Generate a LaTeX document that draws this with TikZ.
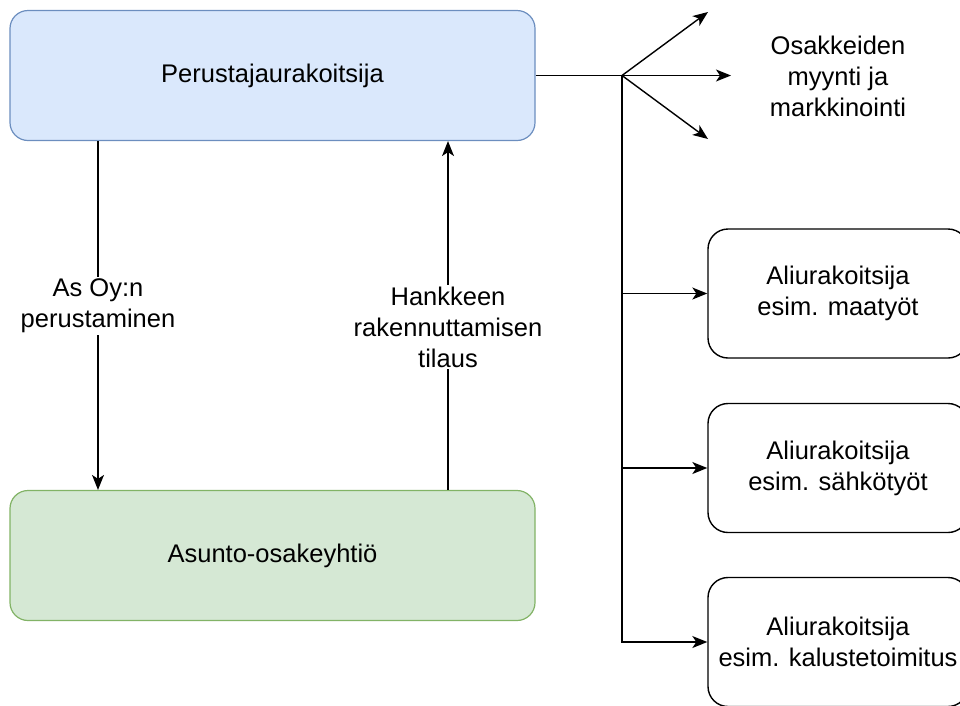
\documentclass[tikz,border=0pt]{standalone}
\usepackage{fontspec}
\setmainfont{Liberation Sans}
\usetikzlibrary{arrows.meta}
\definecolor{blueFill}{HTML}{DAE8FC}
\definecolor{blueLine}{HTML}{6C8EBF}
\definecolor{greenFill}{HTML}{D5E8D4}
\definecolor{greenLine}{HTML}{82B366}
\begin{document}
\begin{tikzpicture}[x=1pt,y=-1pt,
  txt/.style={font=\fontsize{25.5}{31}\selectfont, align=center, text=black},
  bigbox/.style={txt, draw, rounded corners=18pt, line width=1.2pt,
    minimum width=525pt, minimum height=130pt, inner sep=0pt},
  subbox/.style={txt, draw=black, fill=white, rounded corners=20pt, line width=1.4pt,
    minimum width=260pt, minimum height=129pt, inner sep=0pt},
  conn/.style={draw=black, line width=1.4pt},
  arr/.style={conn, -{Stealth[length=15pt, width=12pt, inset=4pt]}},
  lbl/.style={txt, fill=white, inner sep=2pt}]
\useasboundingbox (0,0) rectangle (960,705);

% main boxes
\node[bigbox, fill=blueFill, draw=blueLine] (top) at (272.5,75.5) {Perustajaurakoitsija};
\node[bigbox, fill=greenFill, draw=greenLine] (bot) at (272.5,555.5) {Asunto-osakeyhtiö};

% subcontractor boxes
\node[subbox] (s1) at (838,293.5) {Aliurakoitsija\\esim. maatyöt};
\node[subbox] (s2) at (838,468) {Aliurakoitsija\\esim. sähkötyöt};
\node[subbox] (s3) at (838,642) {Aliurakoitsija\\esim. kalustetoimitus};

% sales text
\node[txt] (sales) at (838,76) {Osakkeiden\\myynti ja\\markkinointi};

% helper coordinates
\coordinate (xl) at (98,0);
\coordinate (xr) at (448,0);
\coordinate (j) at (622,75.5);
\coordinate (t1) at (708,12);
\coordinate (t2) at (731,75.5);
\coordinate (t3) at (708,139);

% vertical links between the main boxes
\draw[arr] (top.south -| xl) -- node[lbl, pos=0.473] (l1) {As Oy:n\\perustaminen} (bot.north -| xl);
\draw[arr] (bot.north -| xr) -- node[lbl, pos=0.467] (l2) {Hankkeen\\rakennuttamisen\\tilaus} (top.south -| xr);

% fan-out to the right
\draw[conn] (top.east) -- (j);
\draw[arr] (j) -- (t1);
\draw[arr] (j) -- (t2);
\draw[arr] (j) -- (t3);
\draw[arr] (j) |- (s3.west);
\draw[arr] (j |- s1.west) -- (s1.west);
\draw[arr] (j |- s2.west) -- (s2.west);
\end{tikzpicture}
\end{document}
